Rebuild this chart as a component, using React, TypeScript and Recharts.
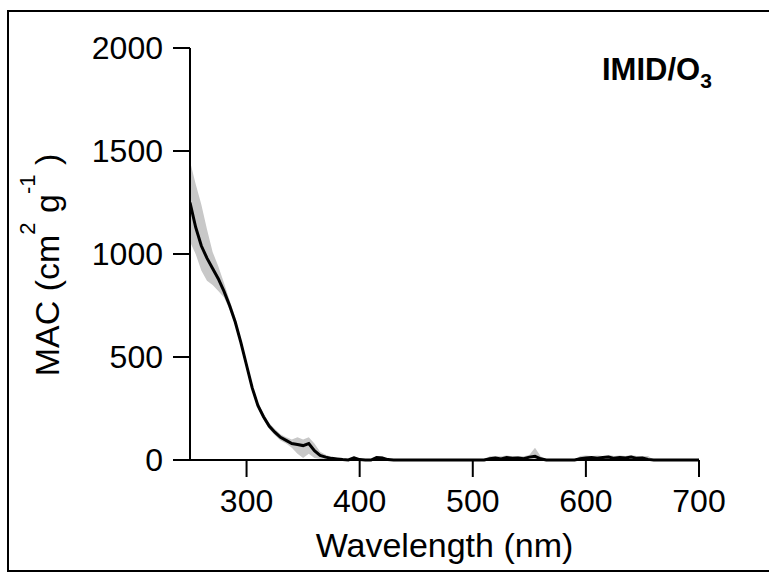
import { ComposedChart, Area, Line, XAxis, YAxis, Customized } from "recharts";

// wavelength (nm)
const wavelength = [
  250, 255, 260, 265, 270, 275, 280, 285, 290, 295, 300, 305, 310, 315, 320, 325, 330, 335, 340, 345,
  350, 355, 360, 365, 370, 375, 380, 385, 390, 395, 400, 405, 410, 415, 420, 425, 430, 435, 440, 445,
  450, 455, 460, 465, 470, 475, 480, 485, 490, 495, 500, 505, 510, 515, 520, 525, 530, 535, 540, 545,
  550, 555, 560, 565, 570, 575, 580, 585, 590, 595, 600, 605, 610, 615, 620, 625, 630, 635, 640, 645,
  650, 655, 660, 665, 670, 675, 680, 685, 690, 695, 700,
];

// MAC (cm2 g-1)
const mac = [
  1250, 1130, 1040, 980, 930, 880, 820, 750, 670, 570, 460, 350, 265, 210, 165, 135, 110, 95, 80, 75,
  70, 80, 45, 22, 14, 8, 5, 2, 0, 10, 2, 0, 0, 12, 10, 2, 0, 0, 0, 0,
  0, 0, 0, 0, 0, 0, 0, 0, 0, 0, 0, 0, 0, 6, 10, 5, 12, 8, 10, 6,
  14, 18, 6, 0, 0, 0, 0, 0, 0, 6, 10, 12, 8, 12, 14, 8, 12, 10, 14, 8,
  10, 3, 0, 0, 0, 0, 0, 0, 0, 0, 0,
];

// uncertainty band
const macLow = [
  1060, 1000, 920, 870, 850, 820, 790, 730, 655, 555, 445, 335, 250, 195, 150, 120, 95, 80, 60, 30,
  10, 30, 10, 5, 2, 0, 0, 0, 0, 0, 0, 0, 0, 0, 0, 0, 0, 0, 0, 0,
  0, 0, 0, 0, 0, 0, 0, 0, 0, 0, 0, 0, 0, 0, 0, 0, 0, 0, 0, 0,
  0, 0, 0, 0, 0, 0, 0, 0, 0, 0, 0, 0, 0, 0, 0, 0, 0, 0, 0, 0,
  0, 0, 0, 0, 0, 0, 0, 0, 0, 0, 0,
];
const macHigh = [
  1450, 1340, 1240, 1120, 1010, 940, 860, 775, 690, 585, 475, 365, 280, 225, 180, 150, 125, 110, 100, 110,
  100, 110, 80, 40, 25, 15, 10, 5, 5, 20, 5, 0, 5, 20, 18, 3, 0, 0, 0, 0,
  0, 0, 0, 0, 0, 0, 0, 0, 0, 0, 0, 0, 0, 18, 20, 18, 22, 18, 20, 18,
  24, 60, 18, 0, 0, 0, 0, 0, 0, 20, 22, 20, 22, 20, 24, 20, 22, 20, 24, 20,
  20, 20, 0, 0, 0, 0, 0, 0, 0, 0, 0,
];

const xTicks = [300, 400, 500, 600, 700];
const yTicks = [0, 500, 1000, 1500, 2000];

const data = wavelength.map((w, i) => ({
  w,
  mac: mac[i],
  band: [macLow[i], macHigh[i]],
}));

const font = "'Liberation Sans', Arial, sans-serif";

function YLabel(props: any) {
  const vb = props.viewBox;
  const x = 59;
  const y = vb.y + vb.height / 2 + 11;
  return (
    <text
      x={x}
      y={y}
      transform={`rotate(-90, ${x}, ${y})`}
      textAnchor="middle"
      fontSize={34}
      fontFamily={font}
      fill="#000"
    >
      MAC (cm
      <tspan dy={-24} fontSize={22}>2</tspan>
      <tspan dy={24}> g</tspan>
      <tspan dy={-24} fontSize={22}>-1</tspan>
      <tspan dy={24}> )</tspan>
    </text>
  );
}

function XLabel(props: any) {
  const vb = props.viewBox;
  return (
    <text
      x={vb.x + vb.width / 2}
      y={557}
      textAnchor="middle"
      fontSize={34}
      fontFamily={font}
      fill="#000"
    >
      Wavelength (nm)
    </text>
  );
}

function Title() {
  return (
    <text x={602} y={80} fontSize={31} fontWeight="bold" fontFamily={font} fill="#000">
      IMID/O
      <tspan dy={8} fontSize={21}>3</tspan>
    </text>
  );
}

export default function App() {
  return (
    <div style={{ position: "relative", width: 769, height: 572, fontFamily: font, background: "#fff" }}>
      <style>{`body{margin:0}`}</style>
      <div
        style={{
          position: "absolute",
          left: 7,
          top: 10,
          width: 762,
          height: 558,
          borderTop: "2px solid #000",
          borderLeft: "2px solid #000",
          borderBottom: "2px solid #000",
        }}
      />
      <div style={{ position: "absolute", left: 0, top: 0 }}>
        <ComposedChart width={769} height={572} data={data} margin={{ top: 48, right: 70, bottom: 0, left: 0 }}>
          <XAxis
            dataKey="w"
            type="number"
            domain={[250, 700]}
            ticks={xTicks}
            height={112}
            stroke="#000"
            strokeWidth={2}
            tickSize={17}
            tickMargin={12}
            tick={{ fill: "#000", fontSize: 32, fontFamily: font }}
            label={<XLabel />}
            allowDataOverflow
          />
          <YAxis
            type="number"
            domain={[0, 2000]}
            ticks={yTicks}
            width={190}
            stroke="#000"
            strokeWidth={2}
            tickSize={17}
            tickMargin={10}
            tick={{ fill: "#000", fontSize: 32, fontFamily: font }}
            label={<YLabel />}
          />
          <Area
            type="linear"
            dataKey="band"
            stroke="none"
            fill="#c8c8c8"
            fillOpacity={1}
            isAnimationActive={false}
          />
          <Line
            type="linear"
            dataKey="mac"
            stroke="#000"
            strokeWidth={3}
            dot={false}
            isAnimationActive={false}
          />
          <Customized component={<Title />} />
        </ComposedChart>
      </div>
    </div>
  );
}
